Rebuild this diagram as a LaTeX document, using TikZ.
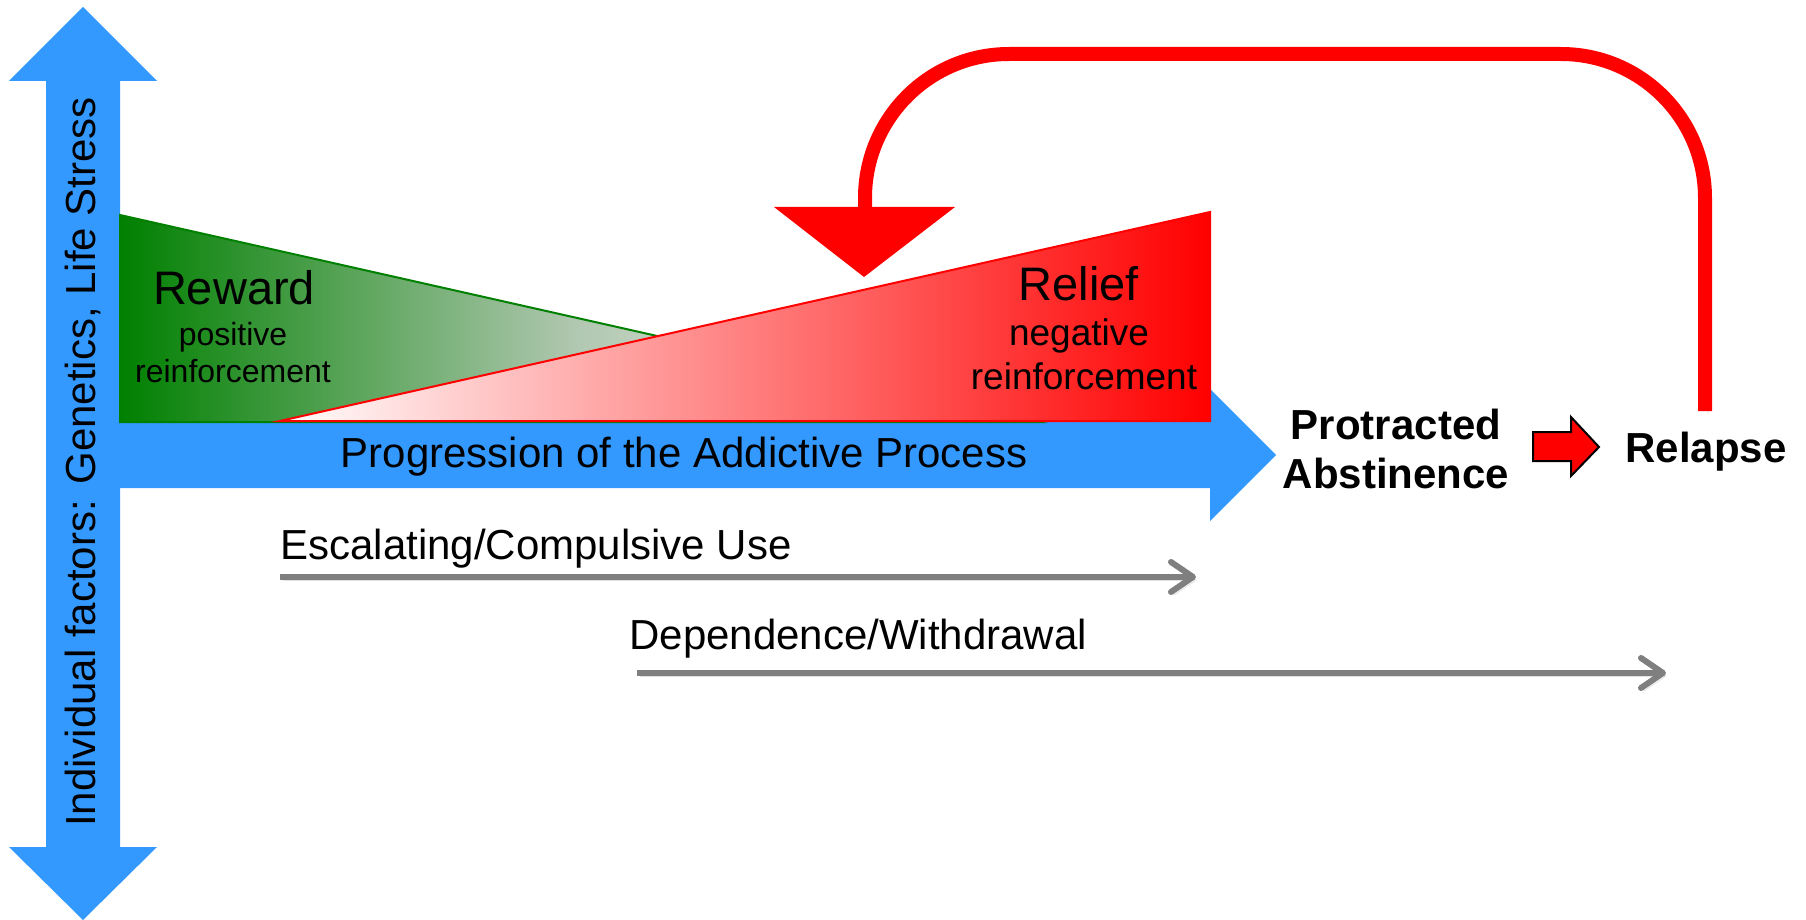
\documentclass[tikz,border=0pt]{standalone}
\usepackage{fontspec}
\setmainfont{Liberation Sans}
\usepackage{xcolor}
\usetikzlibrary{arrows.meta, positioning}

\definecolor{axisblue}{RGB}{51,153,255}
\definecolor{rwgreen}{RGB}{0,128,0}
\definecolor{rwfade}{RGB}{178,200,178}
\definecolor{flowgray}{RGB}{127,127,127}

\begin{document}
\begin{tikzpicture}[
    x=0.5pt, y=-0.5pt,
    axis/.style={fill=axisblue, draw=none},
    bigtxt/.style={font=\fontsize{23.5pt}{28pt}\selectfont, anchor=base, inner sep=0pt},
    subtxt/.style={font=\fontsize{16pt}{19pt}\selectfont, anchor=base, inner sep=0pt},
    axistxt/.style={font=\fontsize{21pt}{25pt}\selectfont, anchor=base, inner sep=0pt},
    stagetxt/.style={font=\bfseries\fontsize{21pt}{25pt}\selectfont, anchor=base, inner sep=0pt},
    shdw/.style={preaction={draw=black, opacity=0.12, transform canvas={shift={(3,3)}}}},
    flow/.style={-{Straight Barb[length=11pt, width=15pt, round]}, line width=3pt, draw=flowgray, shdw},
    loopline/.style={draw=red, line width=7pt, rounded corners=72pt, shdw}
]
\useasboundingbox (0,0) rectangle (1806,920);

% Axes (block arrows)
\fill[axis] (46,81) -- (9,81) -- (83,7) -- (157,81) -- (120,81) -- (120,847)
    -- (157,847) -- (83,920) -- (9,847) -- (46,847) -- cycle;
\fill[axis] (83,422) -- (1210,422) -- (1210,389) -- (1276,455) -- (1210,521)
    -- (1210,488) -- (83,488) -- cycle;

% Reward / Relief wedges
\shadedraw[left color=rwgreen, right color=white, middle color=rwfade, draw=rwgreen, line width=1pt]
    (120,215) -- (1039,422) -- (120,422) -- cycle;
\shadedraw[left color=white, right color=red, draw=red, line width=1pt]
    (280,421) -- (1210,212) -- (1210,421) -- cycle;

% Labels
\node[axistxt, rotate=90] (factors) at (95,462) {Individual factors: Genetics, Life Stress};
\node[axistxt] (progress) at (684,467) {Progression of the Addictive Process};

\node[bigtxt] (reward) at (234,304) {Reward};
\node[subtxt] (rewardsub) at (233,345) {positive};
\node[subtxt] (rewardsubb) at (233,382) {reinforcement};

\node[bigtxt] (relief) at (1079,300) {Relief};
\node[subtxt, font=\fontsize{18.5pt}{22pt}\selectfont] (reliefsub) at (1079,345) {negative};
\node[subtxt, font=\fontsize{18.5pt}{22pt}\selectfont] (reliefsubb) at (1084,389) {reinforcement};

\node[stagetxt] (protracted) at (1396,439) {Protracted};
\node[stagetxt] (abstinence) at (1396,488) {Abstinence};
\node[stagetxt] (relapse) at (1706,462) {Relapse};

% Phases
\node[axistxt, anchor=base west] (escalating) at (280,559) {Escalating/Compulsive Use};
\node[axistxt, anchor=base west] (dependence) at (629,649) {Dependence/Withdrawal};
\coordinate (escend) at (1196,577);
\coordinate (depstart) at (637,673);
\coordinate (depend) at (1666,673);
\draw[flow] (escalating.base west |- escend) -- (escend);
\draw[flow] (depstart) -- (depend);

% Abstinence -> Relapse
\fill[red, draw=black, line width=1pt] (1533,432) -- (1571,432) -- (1571,417) -- (1599,447)
    -- (1571,476) -- (1571,461) -- (1533,461) -- cycle;

% Relapse loop back into the process
\coordinate (loopstart) at (1705,411);
\coordinate (loopend) at (865,210);
\draw[loopline] (loopstart) -- (1705,54) -- (865,54) -- (loopend);
\fill[red] (774,207) -- (955,207) -- (864,277) -- cycle;

\end{tikzpicture}
\end{document}
